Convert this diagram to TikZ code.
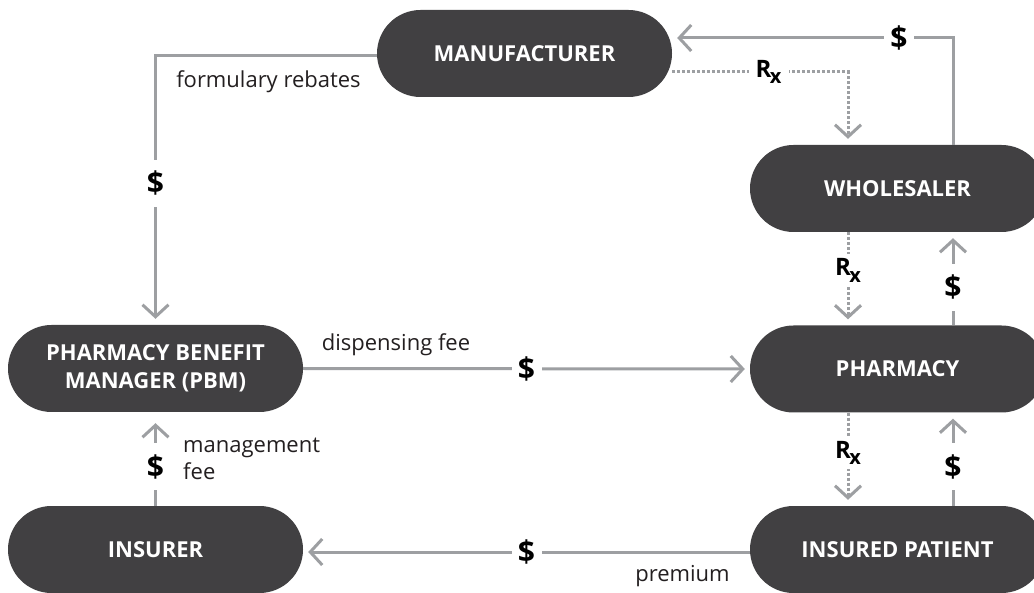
\documentclass[tikz,border=0pt]{standalone}
\usepackage{fontspec}
\setmainfont{Open Sans}
\usetikzlibrary{arrows.meta,calc}
\definecolor{boxgray}{HTML}{414042}
\definecolor{linegray}{HTML}{9D9FA2}
\definecolor{ink}{HTML}{231F20}
\newcommand{\rxmark}{{\bfseries\fontsize{24}{24}\selectfont R\kern-1.5pt\raisebox{-6.5pt}{\fontsize{20}{20}\selectfont x}}}
\begin{document}
\begin{tikzpicture}[x=1pt,y=-1pt,
  party/.style={fill=boxgray,text=white,font=\bfseries\fontsize{22}{28}\selectfont,
    minimum width=295pt,minimum height=87pt,rounded corners=43.5pt,align=center,inner sep=0pt},
  cash/.style={draw=linegray,line width=3pt,-{Straight Barb[length=12pt,width=26pt]},shorten >=6pt},
  goods/.style={cash,dash pattern=on 3pt off 2pt},
  dollar/.style={fill=white,text=black,font=\bfseries\fontsize{30}{30}\selectfont,
    minimum width=30pt,minimum height=47pt,inner sep=0pt},
  rx/.style={fill=white,text=black,minimum width=40pt,minimum height=32pt,inner sep=0pt},
  note/.style={text=ink,font=\fontsize{22}{27}\selectfont,inner sep=0pt}
]
\fill[white] (0,0) rectangle (1034,593);
\useasboundingbox (0,0) rectangle (1034,593);

% participants
\node[party] (manu)    at (524.5,53.5) {MANUFACTURER};
\node[party] (whole)   at (897.5,188.5) {WHOLESALER};
\node[party] (pharm)   at (897.5,369) {PHARMACY};
\node[party] (patient) at (897.5,549.5) {INSURED PATIENT};
\node[party] (pbm)     at (155.5,368.5) {PHARMACY BENEFIT\\MANAGER (PBM)};
\node[party] (insurer) at (155.5,549.5) {INSURER};

% money flows
\draw[cash] ([yshift=-2pt]manu.west) -| node[dollar,pos=0.737] {\$} (pbm.north);
\draw[cash,shorten >=0pt] ([xshift=55.5pt]whole.north) |- node[dollar,pos=0.598] {\$}
  ([xshift=5pt,yshift=15.5pt]manu.east);
\draw[cash] ([xshift=55.5pt]pharm.north) -- node[dollar,pos=0.41] {\$} ([xshift=55.5pt]whole.south);
\draw[cash] ([xshift=55.5pt]patient.north) -- node[dollar,pos=0.42] {\$} ([xshift=55.5pt]pharm.south);
\draw[cash,shorten >=5pt] (pbm.east) -- node[dollar] {\$} (pharm.west);
\draw[cash,shorten >=5pt] ([yshift=-2.5pt]patient.west) -- node[dollar] {\$} ([yshift=-2.5pt]insurer.east);
\draw[cash,shorten >=11pt] (insurer.north) -- node[dollar,pos=0.415] {\$} (pbm.south);

% drug flows
\draw[goods] ([yshift=-18.5pt]manu.east) -| node[rx,pos=0.274] {\rxmark} ([xshift=-49.5pt]whole.north);
\draw[goods] ([xshift=-49.5pt]whole.south) -- node[rx,pos=0.41] {\rxmark} ([xshift=-49.5pt]pharm.north);
\draw[goods] ([xshift=-49.5pt]pharm.south) -- node[rx,pos=0.43] {\rxmark} ([xshift=-49.5pt]patient.north);

% labels
\node[note] (rebates) at (268.5,82) {formulary rebates};
\node[note] (dispfee) at (396,345) {dispensing fee};
\node[note] (prem)    at (682.5,576) {premium};
\node[note,anchor=west,align=left] (mgmt) at (183,459) {management\\fee};
\end{tikzpicture}
\end{document}
